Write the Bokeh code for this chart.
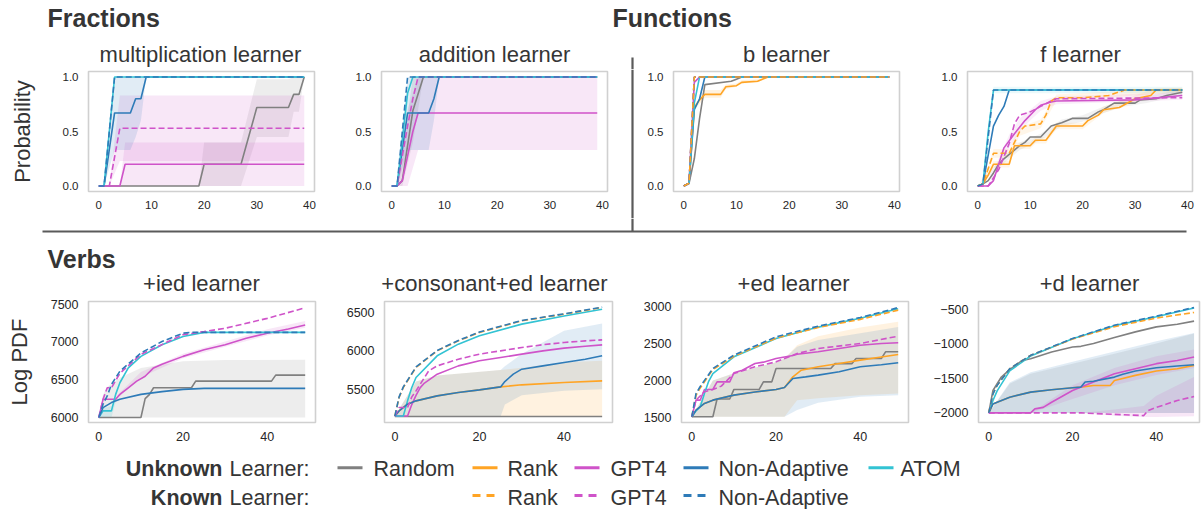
from bokeh.plotting import figure
from bokeh.layouts import column, row
from bokeh.models import Range1d, PrintfTickFormatter
from bokeh.embed import file_html
from bokeh.resources import INLINE
from bokeh.core.properties import value

FONT = "Liberation Sans"

# ---------------- colours ----------------
C_RAND = "#808080"
C_RANK = "#ffa424"
C_GPT = "#cf53c9"
C_NA = "#2e7bb8"
C_ATOM = "#33c3d3"

# ---------------- texts / tick labels ----------------
SECTIONS = ["Fractions", "Functions", "Verbs"]
TOP_TITLES = ["multiplication learner", "addition learner", "b learner", "f learner"]
BOT_TITLES = ["+ied learner", "+consonant+ed learner", "+ed learner", "+d learner"]
X_TOP_TICKS = [0, 10, 20, 30, 40]
X_BOT_TICKS = [0, 20, 40]
Y_TOP_TICKS = [0.0, 0.5, 1.0]
IED_Y_TICKS = [6000, 6500, 7000, 7500]
CONS_Y_TICKS = [5500, 6000, 6500]
ED_Y_TICKS = [1500, 2000, 2500, 3000]
D_Y_TICKS = [-2000, -1500, -1000, -500]

# ---------------- multiplication learner ----------------
MUL_RAND_X = [0, 19, 20, 27, 30, 36, 37, 38, 39]
MUL_RAND_Y = [0, 0, 0.2, 0.2, 0.72, 0.72, 0.84, 0.84, 1.0]
MUL_GPT_X = [0, 4, 5, 39]
MUL_GPT_Y = [0, 0, 0.2, 0.2]
MUL_NA_X = [0, 1, 3, 6, 7, 8, 9, 39]
MUL_NA_Y = [0, 0, 0.67, 0.67, 0.8, 0.8, 1.0, 1.0]
MUL_ATOM_X = [0, 1, 3, 39]
MUL_ATOM_Y = [0, 0, 1.0, 1.0]
MUL_GPT_K_X = [0, 2, 4, 39]
MUL_GPT_K_Y = [0, 0, 0.53, 0.53]
MUL_NA_K_X = [0, 1, 3, 39]
MUL_NA_K_Y = [0, 0, 1.0, 1.0]
MUL_RAND_BX = [19, 20, 27, 30, 36, 37, 38, 39]
MUL_RAND_LO = [0, 0, 0, 0.45, 0.45, 0.68, 0.68, 1.0]
MUL_RAND_HI = [0, 0.4, 0.4, 0.98, 0.98, 1.0, 1.0, 1.0]
MUL_GPT_BX = [4, 5, 39]
MUL_GPT_LO = [0, 0, 0]
MUL_GPT_HI = [0, 0.4, 0.4]
MUL_GPT_K_BX = [2, 4, 39]
MUL_GPT_K_LO = [0, 0.23, 0.23]
MUL_GPT_K_HI = [0, 0.83, 0.83]
MUL_NA_BX = [1, 3, 6, 7, 8, 9]
MUL_NA_LO = [0, 0.33, 0.33, 0.45, 0.6, 1.0]
MUL_NA_HI = [0, 1.0, 1.0, 1.0, 1.0, 1.0]

# ---------------- addition learner ----------------
ADD_RAND_X = [0, 1, 2, 4, 6, 39]
ADD_RAND_Y = [0, 0, 0.05, 0.69, 1.0, 1.0]
ADD_GPT_X = [0, 1, 2, 4, 5, 39]
ADD_GPT_Y = [0, 0, 0.05, 0.5, 0.67, 0.67]
ADD_NA_X = [0, 1, 3, 7, 8, 9, 39]
ADD_NA_Y = [0, 0, 0.67, 0.67, 0.8, 1.0, 1.0]
ADD_ATOM_X = [0, 1, 3, 4, 39]
ADD_ATOM_Y = [0, 0, 0.85, 1.0, 1.0]
ADD_GPT_K_X = [0, 1, 3, 4, 5, 39]
ADD_GPT_K_Y = [0, 0, 0.55, 0.8, 1.0, 1.0]
ADD_NA_K_X = [0, 1, 3, 39]
ADD_NA_K_Y = [0, 0, 1.0, 1.0]
ADD_RAND_BX = [1, 2, 4, 6]
ADD_RAND_LO = [0, 0, 0.4, 1.0]
ADD_RAND_HI = [0, 0.3, 1.0, 1.0]
ADD_GPT_BX = [1, 3, 5, 39]
ADD_GPT_LO = [0, 0, 0.33, 0.33]
ADD_GPT_HI = [0, 0.7, 1.0, 1.0]
ADD_NA_BX = [1, 3, 7, 8, 9]
ADD_NA_LO = [0, 0.33, 0.33, 0.6, 1.0]
ADD_NA_HI = [0, 1.0, 1.0, 1.0, 1.0]

# ---------------- b learner ----------------
B_RAND_X = [0, 1, 2, 3, 4, 9, 10, 11, 39]
B_RAND_Y = [0, 0.025, 0.25, 0.62, 0.93, 0.96, 0.98, 1.0, 1.0]
B_RANK_X = [0, 1, 2, 3, 4, 7, 8, 10, 11, 14, 16, 39]
B_RANK_Y = [0, 0.025, 0.72, 0.79, 0.84, 0.84, 0.91, 0.92, 0.95, 0.96, 1.0, 1.0]
B_GPT_X = [0, 1, 2, 3, 39]
B_GPT_Y = [0, 0.025, 0.95, 1.0, 1.0]
B_NA_X = [0, 1, 2, 3, 4, 39]
B_NA_Y = [0, 0.025, 0.7, 0.8, 1.0, 1.0]
B_ATOM_X = [0, 1, 2, 3, 39]
B_ATOM_Y = [0, 0.025, 0.76, 1.0, 1.0]
B_RANK_K_X = [0, 1, 2, 39]
B_RANK_K_Y = [0, 0.025, 1.0, 1.0]
B_GPT_K_X = [0, 1, 2, 39]
B_GPT_K_Y = [0, 0.025, 1.0, 1.0]
B_NA_K_X = [0, 1, 2, 39]
B_NA_K_Y = [0, 0.025, 1.0, 1.0]
B_RANK_BX = [2, 4, 7, 8, 10, 11, 14, 16]
B_RANK_LO = [0.7, 0.81, 0.81, 0.89, 0.91, 0.94, 0.95, 1.0]
B_RANK_HI = [0.74, 0.88, 0.88, 0.93, 0.94, 0.97, 0.98, 1.0]

# ---------------- f learner ----------------
F_RAND_X = [0, 1, 2, 3, 4, 5, 6, 7, 8, 9, 10, 12, 13, 14, 16, 18, 21, 23, 24, 26, 30, 31, 34, 36, 39]
F_RAND_Y = [0, 0.02, 0.05, 0.12, 0.2, 0.25, 0.29, 0.33, 0.37, 0.4, 0.45, 0.45, 0.5, 0.55, 0.58, 0.62,
            0.62, 0.68, 0.7, 0.76, 0.76, 0.79, 0.8, 0.83, 0.86]
F_RANK_X = [0, 1, 2, 3, 6, 7, 10, 11, 13, 15, 20, 21, 23, 24, 27, 30, 33, 34, 39]
F_RANK_Y = [0, 0.02, 0.1, 0.2, 0.2, 0.37, 0.37, 0.42, 0.42, 0.55, 0.55, 0.6, 0.65, 0.7, 0.72, 0.8,
            0.83, 0.88, 0.88]
F_GPT_X = [0, 2, 3, 4, 5, 7, 9, 11, 12, 14, 15, 30, 39]
F_GPT_Y = [0, 0, 0.05, 0.2, 0.35, 0.48, 0.6, 0.7, 0.74, 0.77, 0.78, 0.79, 0.83]
F_NA_X = [0, 1, 3, 4, 5, 6, 39]
F_NA_Y = [0, 0.02, 0.55, 0.65, 0.73, 0.88, 0.88]
F_ATOM_X = [0, 1, 2, 3, 39]
F_ATOM_Y = [0, 0.02, 0.5, 0.88, 0.88]
F_RANK_K_X = [0, 1, 3, 6, 8, 9, 12, 13, 14, 15, 20, 25, 28, 39]
F_RANK_K_Y = [0, 0.02, 0.3, 0.3, 0.5, 0.55, 0.57, 0.65, 0.78, 0.81, 0.81, 0.83, 0.88, 0.88]
F_GPT_K_X = [0, 2, 4, 6, 7, 8, 10, 12, 14, 15, 39]
F_GPT_K_Y = [0, 0, 0.15, 0.39, 0.57, 0.65, 0.68, 0.73, 0.78, 0.8, 0.81]
F_NA_K_X = [0, 1, 2, 3, 39]
F_NA_K_Y = [0, 0.02, 0.45, 0.88, 0.88]
F_RAND_BX = [0, 4, 8, 12, 16, 20, 24, 28, 32, 36, 39]
F_RAND_LO = [0, 0.17, 0.33, 0.42, 0.55, 0.59, 0.67, 0.73, 0.76, 0.8, 0.83]
F_RAND_HI = [0, 0.23, 0.4, 0.48, 0.61, 0.65, 0.73, 0.79, 0.82, 0.86, 0.89]
F_RANK_BX = [0, 3, 6, 7, 10, 11, 13, 15, 20, 24, 30, 34, 39]
F_RANK_LO = [0, 0.17, 0.17, 0.34, 0.34, 0.39, 0.39, 0.52, 0.52, 0.67, 0.77, 0.86, 0.86]
F_RANK_HI = [0, 0.23, 0.23, 0.4, 0.4, 0.45, 0.45, 0.58, 0.58, 0.73, 0.83, 0.9, 0.9]
F_GPT_BX = [2, 4, 6, 8, 10, 12, 15, 39]
F_GPT_LO = [0, 0.15, 0.35, 0.5, 0.6, 0.69, 0.75, 0.79]
F_GPT_HI = [0, 0.25, 0.47, 0.62, 0.7, 0.78, 0.82, 0.86]
F_RANK_K_BX = [1, 3, 6, 8, 12, 15, 39]
F_RANK_K_LO = [0.02, 0.26, 0.26, 0.46, 0.53, 0.78, 0.86]
F_RANK_K_HI = [0.02, 0.34, 0.34, 0.54, 0.61, 0.84, 0.9]
F_NA_BX = [2, 3, 39]
F_NA_LO = [0.4, 0.85, 0.85]
F_NA_HI = [0.55, 0.91, 0.91]

# ---------------- +ied learner ----------------
IED_RAND_X = [0, 10, 11, 12, 13, 22, 23, 41, 42, 49]
IED_RAND_Y = [6000, 6000, 6248, 6300, 6391, 6391, 6478, 6478, 6557, 6557]
IED_GPT_X = [0, 1, 4, 5, 7, 9, 11, 13, 15, 20, 25, 30, 35, 40, 45, 49]
IED_GPT_Y = [6000, 6239, 6239, 6304, 6391, 6478, 6543, 6652, 6700, 6804, 6891, 6957, 7043, 7109, 7165, 7217]
IED_NA_X = [0, 1, 3, 5, 10, 15, 20, 25, 49]
IED_NA_Y = [6000, 6130, 6196, 6239, 6304, 6340, 6370, 6383, 6383]
IED_ATOM_X = [0, 1, 3, 4, 5, 7, 10, 15, 20, 25, 49]
IED_ATOM_Y = [6000, 6087, 6087, 6304, 6457, 6652, 6804, 6957, 7065, 7120, 7120]
IED_GPT_K_X = [0, 1, 2, 3, 5, 10, 20, 25, 30, 40, 49]
IED_GPT_K_Y = [6000, 6239, 6391, 6391, 6580, 6830, 7090, 7130, 7174, 7304, 7443]
IED_NA_K_X = [0, 1, 2, 3, 5, 10, 15, 20, 22, 49]
IED_NA_K_Y = [6000, 6174, 6283, 6435, 6609, 6848, 7000, 7109, 7120, 7120]
IED_RAND_BX = [0, 1, 2, 5, 10, 20, 30, 49]
IED_RAND_LO = [6000, 6000, 6000, 6000, 6000, 6000, 6000, 6000]
IED_RAND_HI = [6000, 6300, 6400, 6522, 6652, 6739, 6755, 6761]
IED_GPT_BX = [5, 10, 20, 30, 40, 49]
IED_GPT_LO = [6280, 6530, 6780, 6930, 7080, 7180]
IED_GPT_HI = [6330, 6600, 6840, 7000, 7160, 7270]
IED_ATOM_BX = [0, 1, 3, 4]
IED_ATOM_LO = [6000, 6000, 6000, 6200]
IED_ATOM_HI = [6000, 6120, 6150, 6330]

# ---------------- +consonant+ed learner ----------------
CONS_RAND_X = [0, 49]
CONS_RAND_Y = [5145, 5145]
CONS_RANK_X = [0, 1, 3, 5, 10, 15, 20, 25, 30, 40, 49]
CONS_RANK_Y = [5150, 5217, 5304, 5348, 5413, 5457, 5491, 5530, 5557, 5587, 5609]
CONS_GPT_X = [0, 3, 4, 5, 6, 7, 10, 15, 20, 25, 30, 35, 40, 45, 49]
CONS_GPT_Y = [5150, 5150, 5300, 5420, 5520, 5580, 5696, 5804, 5870, 5913, 5957, 6000, 6035, 6060, 6078]
CONS_NA_X = [0, 1, 3, 5, 10, 15, 20, 25, 26, 28, 30, 35, 40, 45, 49]
CONS_NA_Y = [5150, 5217, 5304, 5348, 5413, 5457, 5491, 5530, 5600, 5696, 5761, 5804, 5848, 5890, 5935]
CONS_ATOM_X = [0, 2, 3, 4, 5, 10, 15, 20, 30, 40, 49]
CONS_ATOM_Y = [5150, 5150, 5348, 5522, 5652, 5935, 6087, 6196, 6348, 6455, 6543]
CONS_RANK_K_X = [0, 1, 2, 5, 10, 15, 20, 30, 40, 49]
CONS_RANK_K_Y = [5150, 5391, 5522, 5783, 6000, 6130, 6239, 6391, 6478, 6565]
CONS_GPT_K_X = [0, 1, 3, 4, 5, 7, 8, 10, 15, 20, 25, 30, 35, 40, 45, 49]
CONS_GPT_K_Y = [5150, 5261, 5261, 5400, 5478, 5652, 5739, 5804, 5891, 5957, 6000, 6043, 6080, 6109, 6130, 6143]
CONS_NA_K_X = [0, 1, 2, 5, 10, 15, 20, 30, 40, 49]
CONS_NA_K_Y = [5150, 5400, 5530, 5790, 6005, 6135, 6245, 6395, 6482, 6570]
CONS_RANK_BX = [0, 5, 10, 25, 30, 40, 49]
CONS_RANK_LO = [5145, 5145, 5145, 5145, 5145, 5145, 5145]
CONS_RANK_HI = [5150, 5600, 5680, 5750, 5780, 5850, 5870]
CONS_NA_BX = [0, 5, 10, 25, 26, 30, 40, 49]
CONS_NA_LO = [5145, 5145, 5145, 5145, 5300, 5420, 5480, 5500]
CONS_NA_HI = [5150, 5600, 5680, 5750, 5800, 5960, 6261, 6357]

# ---------------- +ed learner ----------------
ED_RAND_X = [0, 5, 6, 9, 10, 16, 17, 19, 20, 33, 34, 38, 39, 45, 46, 49]
ED_RAND_Y = [1510, 1510, 1750, 1750, 1880, 1880, 1983, 1983, 2164, 2164, 2230, 2230, 2300, 2300, 2390, 2390]
ED_RANK_X = [0, 1, 3, 5, 10, 15, 20, 22, 24, 26, 30, 35, 40, 45, 49]
ED_RANK_Y = [1510, 1600, 1690, 1735, 1803, 1845, 1880, 1907, 2051, 2141, 2187, 2232, 2277, 2320, 2354]
ED_GPT_X = [0, 1, 2, 3, 5, 6, 9, 10, 12, 15, 17, 20, 24, 25, 30, 35, 40, 45, 49]
ED_GPT_Y = [1510, 1735, 1735, 1880, 1880, 1983, 1983, 2105, 2140, 2232, 2250, 2300, 2340, 2358, 2390,
            2435, 2480, 2503, 2512]
ED_NA_X = [0, 1, 3, 5, 10, 15, 20, 22, 24, 27, 30, 35, 40, 45, 49]
ED_NA_Y = [1510, 1600, 1690, 1735, 1803, 1845, 1880, 1907, 2028, 2050, 2074, 2119, 2187, 2215, 2241]
ED_ATOM_X = [0, 1, 2, 3, 4, 5, 10, 20, 30, 40, 49]
ED_ATOM_Y = [1510, 1590, 1645, 1825, 1990, 2096, 2322, 2570, 2725, 2845, 2973]
ED_RANK_K_X = [0, 1, 2, 5, 10, 20, 30, 40, 49]
ED_RANK_K_Y = [1510, 1800, 1900, 2150, 2330, 2575, 2720, 2830, 2955]
ED_GPT_K_X = [0, 1, 3, 5, 7, 10, 15, 20, 25, 30, 40, 49]
ED_GPT_K_Y = [1510, 1735, 1850, 1880, 1925, 2096, 2187, 2254, 2367, 2435, 2503, 2602]
ED_NA_K_X = [0, 1, 2, 5, 10, 20, 30, 40, 49]
ED_NA_K_Y = [1510, 1825, 1920, 2164, 2345, 2593, 2738, 2855, 2990]
ED_NA_BX = [0, 5, 10, 20, 22, 25, 30, 40, 49]
ED_NA_LO = [1510, 1510, 1510, 1510, 1510, 1600, 1700, 1780, 1803]
ED_NA_HI = [1510, 2000, 2100, 2250, 2300, 2458, 2550, 2640, 2728]
ED_RANK_BX = [0, 5, 10, 20, 22, 25, 30, 40, 49]
ED_RANK_LO = [1510, 1510, 1510, 1510, 1510, 1735, 1760, 1800, 1825]
ED_RANK_HI = [1510, 2000, 2100, 2250, 2300, 2480, 2600, 2720, 2796]

# ---------------- +d learner ----------------
D_RAND_X = [0, 1, 3, 5, 8, 10, 15, 20, 22, 25, 30, 35, 40, 45, 49]
D_RAND_Y = [-2000, -1675, -1480, -1374, -1238, -1215, -1117, -1044, -1035, -995, -908, -825, -753, -715, -670]
D_RANK_X = [0, 1, 2, 5, 10, 15, 20, 22, 25, 29, 30, 35, 40, 45, 49]
D_RANK_Y = [-2000, -1870, -1845, -1772, -1699, -1665, -1636, -1626, -1602, -1602, -1529, -1456, -1393, -1360, -1311]
D_GPT_X = [0, 10, 11, 13, 15, 20, 25, 30, 35, 40, 45, 49]
D_GPT_Y = [-2000, -2000, -1942, -1920, -1845, -1675, -1553, -1432, -1359, -1286, -1240, -1189]
D_NA_X = [0, 1, 2, 5, 10, 15, 20, 22, 23, 25, 30, 32, 35, 40, 45, 49]
D_NA_Y = [-2000, -1870, -1845, -1772, -1699, -1665, -1636, -1626, -1553, -1540, -1481, -1440, -1393, -1345,
          -1320, -1301]
D_ATOM_X = [0, 1, 2, 5, 10, 20, 30, 40, 49]
D_ATOM_Y = [-2000, -1820, -1680, -1390, -1175, -925, -735, -605, -480]
D_RANK_K_X = [0, 1, 2, 5, 10, 20, 30, 40, 49]
D_RANK_K_Y = [-2000, -1723, -1600, -1359, -1165, -930, -750, -625, -544]
D_GPT_K_X = [0, 22, 37, 38, 40, 45, 49]
D_GPT_K_Y = [-2000, -2000, -2039, -1966, -1920, -1820, -1762]
D_NA_K_X = [0, 1, 2, 5, 10, 20, 30, 40, 49]
D_NA_K_Y = [-2000, -1723, -1600, -1359, -1165, -922, -728, -597, -471]
D_RAND_BX = [0, 5, 10, 20, 30, 40, 49]
D_RAND_LO = [-2000, -2000, -2000, -2000, -2000, -2000, -2000]
D_RAND_HI = [-2000, -1578, -1432, -1286, -1141, -995, -850]
D_NA_BX = [0, 5, 10, 20, 30, 40, 49]
D_NA_LO = [-2000, -2000, -2000, -2000, -2000, -2000, -2000]
D_NA_HI = [-2000, -1560, -1410, -1260, -1110, -960, -840]
D_GPT_BX = [10, 20, 30, 40, 49]
D_GPT_LO = [-2000, -1800, -1600, -1450, -1350]
D_GPT_HI = [-2000, -1600, -1350, -1180, -1080]
D_GPT_K_BX = [22, 30, 37, 40, 49]
D_GPT_K_LO = [-2000, -2040, -2060, -2060, -2050]
D_GPT_K_HI = [-2000, -1950, -1900, -1750, -1480]

# ---------------- legend entries ----------------
LEGEND_UNKNOWN = ["Random", "Rank", "GPT4", "Non-Adaptive", "ATOM"]
LEGEND_KNOWN = ["Rank", "GPT4", "Non-Adaptive"]

COLORS = {"rand": C_RAND, "rank": C_RANK, "gpt": C_GPT, "na": C_NA, "atom": C_ATOM}
TXT = "#333333"


def panel(width, height, bl, br, bt, bb, xr, yr, xticks, yticks, bands, lines,
          ylabel=None, top=True, overrides=None, band_alpha=0.14):
    p = figure(width=width, height=height, x_range=Range1d(*xr), y_range=Range1d(*yr),
               output_backend="svg", toolbar_location=None, title=None,
               min_border_left=bl, min_border_right=br, min_border_top=bt, min_border_bottom=bb)
    p.grid.visible = False
    p.outline_line_color = "#d0d0d0"
    p.outline_line_width = 1.6
    p.xaxis.ticker = xticks
    p.yaxis.ticker = yticks
    for ax in (p.xaxis, p.yaxis):
        ax.axis_line_color = None
        ax.major_tick_line_color = None
        ax.minor_tick_line_color = None
        ax.major_tick_out = 0
        ax.major_tick_in = 0
        ax.minor_tick_out = 0
        ax.major_label_text_font = FONT
        ax.major_label_text_font_size = "11.5px" if top else "12.5px"
        ax.major_label_text_color = "#262626"
    p.xaxis.major_label_standoff = 9
    p.yaxis.major_label_standoff = 10
    if top:
        p.yaxis.formatter = PrintfTickFormatter(format="%.1f")
    if overrides:
        p.yaxis.major_label_overrides = overrides
    if ylabel:
        p.yaxis.axis_label = ylabel
        p.yaxis.axis_label_text_font = FONT
        p.yaxis.axis_label_text_font_size = "22px"
        p.yaxis.axis_label_text_font_style = "normal"
        p.yaxis.axis_label_text_color = TXT
        p.yaxis.axis_label_standoff = 25 if top else 16
    for kind, bx, lo, hi in bands:
        p.varea(x=bx, y1=lo, y2=hi, fill_color=COLORS[kind], fill_alpha=band_alpha)
    for kind, x, y, known in lines:
        p.line(x, y, line_color=COLORS[kind], line_width=1.6,
               line_dash="6 3" if known else "solid")
    return p


TOP_XR = (-1.95, 40.95)
TOP_YR = (-0.05, 1.05)
BOT_XR = (-2.45, 51.45)
TOP_H, BOT_H = 149, 151

p1 = panel(340, TOP_H, 88, 26, 2, 27, TOP_XR, TOP_YR, X_TOP_TICKS, Y_TOP_TICKS,
           [("rand", MUL_RAND_BX, MUL_RAND_LO, MUL_RAND_HI),
            ("gpt", MUL_GPT_BX, MUL_GPT_LO, MUL_GPT_HI),
            ("gpt", MUL_GPT_K_BX, MUL_GPT_K_LO, MUL_GPT_K_HI),
            ("na", MUL_NA_BX, MUL_NA_LO, MUL_NA_HI)],
           [("rand", MUL_RAND_X, MUL_RAND_Y, False), ("gpt", MUL_GPT_X, MUL_GPT_Y, False),
            ("na", MUL_NA_X, MUL_NA_Y, False), ("atom", MUL_ATOM_X, MUL_ATOM_Y, False),
            ("gpt", MUL_GPT_K_X, MUL_GPT_K_Y, True), ("na", MUL_NA_K_X, MUL_NA_K_Y, True)],
           ylabel="Probability")

p2 = panel(280, TOP_H, 41, 13, 2, 27, TOP_XR, TOP_YR, X_TOP_TICKS, Y_TOP_TICKS,
           [("rand", ADD_RAND_BX, ADD_RAND_LO, ADD_RAND_HI),
            ("gpt", ADD_GPT_BX, ADD_GPT_LO, ADD_GPT_HI),
            ("na", ADD_NA_BX, ADD_NA_LO, ADD_NA_HI)],
           [("rand", ADD_RAND_X, ADD_RAND_Y, False), ("gpt", ADD_GPT_X, ADD_GPT_Y, False),
            ("na", ADD_NA_X, ADD_NA_Y, False), ("atom", ADD_ATOM_X, ADD_ATOM_Y, False),
            ("gpt", ADD_GPT_K_X, ADD_GPT_K_Y, True), ("na", ADD_NA_K_X, ADD_NA_K_Y, True)])

p3 = panel(286, TOP_H, 29, 31, 2, 27, TOP_XR, TOP_YR, X_TOP_TICKS, Y_TOP_TICKS,
           [("rank", B_RANK_BX, B_RANK_LO, B_RANK_HI)],
           [("rand", B_RAND_X, B_RAND_Y, False), ("rank", B_RANK_X, B_RANK_Y, False),
            ("gpt", B_GPT_X, B_GPT_Y, False), ("na", B_NA_X, B_NA_Y, False),
            ("atom", B_ATOM_X, B_ATOM_Y, False), ("gpt", B_GPT_K_X, B_GPT_K_Y, True),
            ("na", B_NA_K_X, B_NA_K_Y, True), ("rank", B_RANK_K_X, B_RANK_K_Y, True)])

p4 = panel(272, TOP_H, 37, 10, 2, 27, TOP_XR, TOP_YR, X_TOP_TICKS, Y_TOP_TICKS,
           [("rand", F_RAND_BX, F_RAND_LO, F_RAND_HI), ("rank", F_RANK_BX, F_RANK_LO, F_RANK_HI),
            ("gpt", F_GPT_BX, F_GPT_LO, F_GPT_HI), ("rank", F_RANK_K_BX, F_RANK_K_LO, F_RANK_K_HI),
            ("atom", F_NA_BX, F_NA_LO, F_NA_HI)],
           [("rand", F_RAND_X, F_RAND_Y, False), ("rank", F_RANK_X, F_RANK_Y, False),
            ("gpt", F_GPT_X, F_GPT_Y, False), ("na", F_NA_X, F_NA_Y, False),
            ("atom", F_ATOM_X, F_ATOM_Y, False), ("rank", F_RANK_K_X, F_RANK_K_Y, True),
            ("gpt", F_GPT_K_X, F_GPT_K_Y, True), ("na", F_NA_K_X, F_NA_K_Y, True)],
           band_alpha=0.1)

p5 = panel(340, BOT_H, 88, 25, 2, 28, BOT_XR, (5934, 7526), X_BOT_TICKS, IED_Y_TICKS,
           [("rand", IED_RAND_BX, IED_RAND_LO, IED_RAND_HI), ("gpt", IED_GPT_BX, IED_GPT_LO, IED_GPT_HI),
            ("atom", IED_ATOM_BX, IED_ATOM_LO, IED_ATOM_HI)],
           [("rand", IED_RAND_X, IED_RAND_Y, False), ("gpt", IED_GPT_X, IED_GPT_Y, False),
            ("atom", IED_ATOM_X, IED_ATOM_Y, False), ("na", IED_NA_X, IED_NA_Y, False),
            ("gpt", IED_GPT_K_X, IED_GPT_K_Y, True), ("na", IED_NA_K_X, IED_NA_K_Y, True)],
           ylabel="Log PDF", top=False)

p6 = panel(300, BOT_H, 44, 28, 2, 28, BOT_XR, (5066, 6643), X_BOT_TICKS, CONS_Y_TICKS,
           [("rank", CONS_RANK_BX, CONS_RANK_LO, CONS_RANK_HI), ("na", CONS_NA_BX, CONS_NA_LO, CONS_NA_HI)],
           [("rand", CONS_RAND_X, CONS_RAND_Y, False), ("rank", CONS_RANK_X, CONS_RANK_Y, False),
            ("gpt", CONS_GPT_X, CONS_GPT_Y, False), ("atom", CONS_ATOM_X, CONS_ATOM_Y, False),
            ("na", CONS_NA_X, CONS_NA_Y, False), ("rank", CONS_RANK_K_X, CONS_RANK_K_Y, True),
            ("gpt", CONS_GPT_K_X, CONS_GPT_K_Y, True), ("na", CONS_NA_K_X, CONS_NA_K_Y, True)],
           top=False)

p7 = panel(290, BOT_H, 40, 22, 2, 28, BOT_XR, (1432, 3072), X_BOT_TICKS, ED_Y_TICKS,
           [("rank", ED_RANK_BX, ED_RANK_LO, ED_RANK_HI), ("na", ED_NA_BX, ED_NA_LO, ED_NA_HI)],
           [("rand", ED_RAND_X, ED_RAND_Y, False), ("rank", ED_RANK_X, ED_RANK_Y, False),
            ("gpt", ED_GPT_X, ED_GPT_Y, False), ("atom", ED_ATOM_X, ED_ATOM_Y, False),
            ("na", ED_NA_X, ED_NA_Y, False), ("rank", ED_RANK_K_X, ED_RANK_K_Y, True),
            ("gpt", ED_GPT_K_X, ED_GPT_K_Y, True), ("na", ED_NA_K_X, ED_NA_K_Y, True)],
           top=False)

p8 = panel(272, BOT_H, 46, 3, 2, 28, (-2.45, 50.3), (-2139, -385), X_BOT_TICKS, D_Y_TICKS,
           [("rand", D_RAND_BX, D_RAND_LO, D_RAND_HI), ("na", D_NA_BX, D_NA_LO, D_NA_HI),
            ("gpt", D_GPT_BX, D_GPT_LO, D_GPT_HI), ("gpt", D_GPT_K_BX, D_GPT_K_LO, D_GPT_K_HI)],
           [("rand", D_RAND_X, D_RAND_Y, False), ("rank", D_RANK_X, D_RANK_Y, False),
            ("gpt", D_GPT_X, D_GPT_Y, False), ("atom", D_ATOM_X, D_ATOM_Y, False),
            ("na", D_NA_X, D_NA_Y, False), ("rank", D_RANK_K_X, D_RANK_K_Y, True),
            ("gpt", D_GPT_K_X, D_GPT_K_Y, True), ("na", D_NA_K_X, D_NA_K_Y, True)],
           top=False, overrides={t: str(t).replace("-", "\u2212") for t in D_Y_TICKS})


def blank(width, height, x0, x1, y0, y1):
    f = figure(frame_width=width, frame_height=height, x_range=Range1d(x0, x1), y_range=Range1d(y1, y0),
               output_backend="svg", toolbar_location=None, x_axis_location=None,
               y_axis_location=None, min_border=0, title=None)
    f.min_border_left = f.min_border_right = f.min_border_top = f.min_border_bottom = 0
    f.frame_align = False
    f.grid.visible = False
    f.outline_line_color = None
    return f


def label(f, xs, ys, texts, size, bold=False, align="left"):
    f.text(x=xs, y=ys, text=texts, text_font=value(FONT), text_font_size=size,
           text_font_style="bold" if bold else "normal", text_color="#353535",
           text_baseline="middle", text_align=align)


DIV_COLOR = "#5a5a5a"

# header: section names, top subplot titles, start of vertical divider
head = blank(1202, 69, 0, 1202, 0, 69)
label(head, [47, 612], [17.5, 17.5], SECTIONS[:2], "25px", bold=True)
label(head, [200, 494, 786, 1080], [53.5] * 4, TOP_TITLES, "22px", align="center")
head.line([632, 632], [57, 69], line_color=DIV_COLOR, line_width=2.2)

# vertical separator between Fractions and Functions (next to top panels)
sep = blank(24, TOP_H, 620, 644, 69, 218)
sep.line([632, 632], [69, 218], line_color=DIV_COLOR, line_width=2.2)

# middle: horizontal rule, Verbs, bottom subplot titles
mid = blank(1202, 81, 0, 1202, 218, 299)
mid.line([42, 1186], [231, 231], line_color=DIV_COLOR, line_width=2.2)
mid.line([632, 632], [218, 231], line_color=DIV_COLOR, line_width=2.2)
label(mid, [47], [258.5], SECTIONS[2:], "25px", bold=True)
label(mid, [201, 494, 793, 1089], [282.5] * 4, BOT_TITLES, "22px", align="center")

# legend
leg = blank(1202, 59, 0, 1202, 450, 509)
ROW1, ROW2 = 468, 497
label(leg, [222, 222], [ROW1, ROW2], ["Unknown", "Known"], "21.5px", bold=True, align="right")
label(leg, [229, 229], [ROW1, ROW2], ["Learner:", "Learner:"], "21.5px")
U_LINE_X = [337, 472, 574, 683, 868]
U_LABEL_X = [373, 507, 610, 718, 900]
U_COLORS = [C_RAND, C_RANK, C_GPT, C_NA, C_ATOM]
for lx, c in zip(U_LINE_X, U_COLORS):
    leg.line([lx, lx + 25], [ROW1 - 0.7, ROW1 - 0.7], line_color=c, line_width=3)
label(leg, U_LABEL_X, [ROW1] * 5, LEGEND_UNKNOWN, "21.5px")
K_LINE_X = [472, 574, 683]
K_LABEL_X = [507, 610, 718]
K_COLORS = [C_RANK, C_GPT, C_NA]
for lx, c in zip(K_LINE_X, K_COLORS):
    leg.line([lx, lx + 25], [ROW2 - 2, ROW2 - 2], line_color=c, line_width=3, line_dash="8 6")
label(leg, K_LABEL_X, [ROW2] * 3, LEGEND_KNOWN, "21.5px")

layout = column(head, row(p1, p2, sep, p3, p4), mid, row(p5, p6, p7, p8), leg, spacing=0)

open("out.html", "w").write(file_html(layout, INLINE))
